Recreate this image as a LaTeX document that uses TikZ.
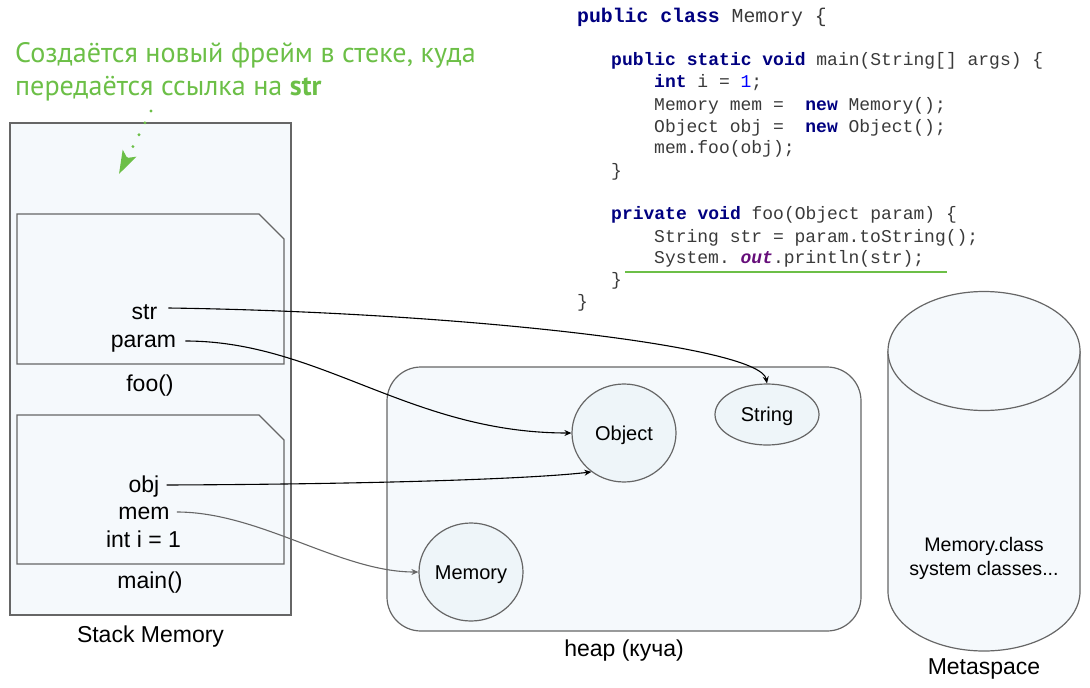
\documentclass[tikz,border=0pt]{standalone}
\usepackage{fontspec}
\setmainfont{Liberation Sans}
\newfontfamily\codefont{Liberation Mono}
\newfontfamily\headfont{PT Sans}
\usetikzlibrary{arrows.meta,shapes.geometric}
\definecolor{boxfill}{HTML}{F5F9FC}
\definecolor{circfill}{HTML}{EEF5F9}
\definecolor{edgec}{HTML}{666666}
\definecolor{hint}{HTML}{6CBF47}
\definecolor{kwc}{HTML}{000080}
\definecolor{numc}{HTML}{0000FF}
\definecolor{outc}{HTML}{660E7A}
\definecolor{codec}{HTML}{3A3A3A}
\newcommand\kw[1]{\textcolor{kwc}{\bfseries #1}}
\tikzset{
  region/.style={draw=edgec, fill=boxfill, line width=1.2pt},
  obj/.style={draw=edgec, fill=circfill, line width=1.2pt, ellipse, inner sep=0pt,
    text height=14.3pt, text depth=0pt, font=\fontsize{20}{24}\selectfont},
  biglabel/.style={anchor=base, inner sep=0pt, font=\fontsize{23}{27}\selectfont},
  var/.style={anchor=base, inner sep=0pt, font=\fontsize{23}{27}\selectfont},
  code/.style={anchor=base west, inner sep=0pt, text=codec,
    font=\codefont\fontsize{18}{20}\selectfont},
  ref/.style={line width=1.1pt, -{Stealth[length=7pt,width=6pt]}},
  head/.style={anchor=base west, inner sep=0pt, text=hint,
    font=\headfont\fontsize{28.1}{32}\selectfont},
}
\begin{document}
\begin{tikzpicture}[x=1pt,y=-1pt]
\useasboundingbox (0,0) rectangle (1090,688);

% heading
\node[head] (head1) at (15,62) {Создаётся новый фрейм в стеке, куда};
\node[head] (head2) at (15,95) {передаётся ссылка на \textbf{str}};

% stack memory
\draw[region] (10,123) rectangle (291,615);
\draw[region] (17,214) -- (259,214) -- (284,239) -- (284,364) -- (17,364) -- cycle;
\draw[region] (17,415) -- (259,415) -- (284,440) -- (284,564) -- (17,564) -- cycle;

\node[var] (str) at (144.5,319) {str};
\node[var] (param) at (143.5,347) {param};
\node[biglabel] (foo) at (150,391) {foo()};
\node[var] (objv) at (144,492) {obj};
\node[var] (memv) at (144,519) {mem};
\node[var] (intv) at (143.5,547) {int i = 1};
\node[biglabel] (mainl) at (150,588) {main()};
\node[biglabel] (stackl) at (150.5,642) {Stack Memory};

% green dotted arrow
\coordinate (hs) at (151,111);
\coordinate (he) at (119,174);
\draw[hint, line width=3.2pt, line cap=round, dash pattern=on 0pt off 13.3pt,
  -{Stealth[length=23pt,width=15pt,inset=5pt]}] (hs) -- (he);

% heap
\node[region, rounded corners=34pt, minimum width=474pt, minimum height=264pt,
  inner sep=0pt] (heap) at (624,499) {};
\node[biglabel] (heapl) at (624,656) {heap (куча)};
\node[obj, minimum width=104pt, minimum height=98pt] (object) at (624,433) {Object};
\node[obj, minimum width=104pt, minimum height=61pt] (string) at (767,414.5) {String};
\node[obj, minimum width=104pt, minimum height=98pt] (memory) at (471,572) {Memory};

% metaspace cylinder
\fill[boxfill] (888,351) -- (888,591.5) arc[start angle=180, end angle=0, x radius=96, y radius=59.5] -- (1080,351) -- cycle;
\draw[edgec, line width=1.2pt] (888,351) -- (888,591.5) arc[start angle=180, end angle=0, x radius=96, y radius=59.5] -- (1080,351);
\draw[edgec, fill=boxfill, line width=1.2pt] (984,351) ellipse[x radius=96, y radius=59.5];
\node[anchor=base, inner sep=0pt, font=\fontsize{19.6}{24}\selectfont] (mclass) at (984,551) {Memory.class};
\node[anchor=base, inner sep=0pt, font=\fontsize{19.6}{24}\selectfont] (sysc) at (984,575) {system classes...};
\node[biglabel] (metal) at (984,674) {Metaspace};

% code
\node[code, font=\codefont\fontsize{19.8}{22}\selectfont] (c1) at (577,22) {\kw{public class} Memory \{};
\node[code] (c2) at (611,65) {\kw{public static void} main(String[] args) \{};
\node[code] (c3) at (654,87) {\kw{int} i = \textcolor{numc}{1};};
\node[code] (c4) at (654,110) {Memory mem =\ \ \kw{new} Memory();};
\node[code] (c5) at (654,132) {Object obj =\ \ \kw{new} Object();};
\node[code] (c6) at (654,153) {mem.foo(obj);};
\node[code] (c7) at (611,176) {\}};
\node[code] (c8) at (611,219) {\kw{private void} foo(Object param) \{};
\node[code] (c9) at (654,242) {String str = param.toString();};
\node[code] (c10) at (654,263) {System.\ {\color{outc}\bfseries\itshape out}.println(str);};
\node[code] (c11) at (611,285) {\}};
\node[code] (c12) at (577,307) {\}};
\coordinate (ul1) at (625,272);
\coordinate (ul2) at (947,272);
\draw[hint, line width=2pt] (ul1) -- (ul2);

% references
\draw[ref] ([xshift=11pt,yshift=11pt]str.base east) .. controls (450,312) and (760,345) .. (string.north);
\draw[ref] ([xshift=9pt,yshift=6pt]param.base east) .. controls (320,341) and (410,433) .. (object.west);
\draw[ref] ([xshift=7pt,yshift=7pt]objv.base east) .. controls (400,484) and (540,478) .. (object.230);
\draw[ref, edgec] ([xshift=7pt,yshift=7pt]memv.base east) .. controls (260,512) and (340,572) .. (memory.west);
\end{tikzpicture}
\end{document}
